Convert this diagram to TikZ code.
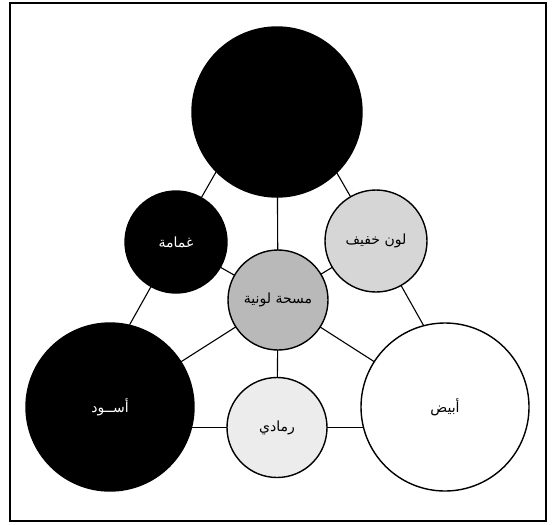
\documentclass[tikz,border=0pt]{standalone}
\usepackage{fontspec}
\newfontfamily\arabicfont[Script=Arabic]{DejaVu Sans}
\TeXXeTstate=1
\pgfdeclarelayer{bg}
\pgfsetlayers{bg,main}
\tikzset{
  circ/.style={circle, draw=black, line width=1.4pt, inner sep=0pt, minimum size=#1},
  conn/.style={line width=1.1pt, line cap=round},
  lbl/.style={font=\arabicfont\fontsize{14}{16}\selectfont},
  frame/.style={line width=1.3pt}
}
\begin{document}
\begin{tikzpicture}[x=1pt,y=-1pt]
\useasboundingbox (0,0) rectangle (553,524);
\draw[frame] (10,3) rectangle (546,521);
% hidden triangle vertices
\coordinate (vT) at (276,67);
\coordinate (vL) at (72,427.5);
\coordinate (vR) at (481,427.5);
% circles
\node[circ=170pt, fill=black] (top) at (277,112) {};
\node[circ=102pt, fill=black, text=white, lbl] (ghm) at (176,242) {\beginR غمامة\endR};
\node[circ=102pt, fill=gray!32, lbl] (light) at (376,241) {\beginR لون خفيف\endR};
\node[circ=100pt, fill=gray!55, lbl] (ctr) at (278,300) {\beginR مسحة لونية\endR};
\node[circ=168pt, fill=black, text=white, lbl] (aswad) at (110,407) {\beginR أســود\endR};
\node[circ=100pt, fill=gray!15, lbl] (ramadi) at (277,427.5) {\beginR رمادي\endR};
\node[circ=168pt, fill=white, lbl] (abyad) at (445,407) {\beginR أبيض\endR};
\begin{pgfonlayer}{bg}
  % triangle edges
  \draw[conn] (vT) -- (ghm.center) -- (vL);
  \draw[conn] (vT) -- (light.center) -- (vR);
  \draw[conn] (vL) -- (ramadi.center) -- (vR);
  % spokes from centre
  \draw[conn] (ctr.center) -- (top.center);
  \draw[conn] (ctr.center) -- (ghm.center);
  \draw[conn] (ctr.center) -- (light.center);
  \draw[conn] (ctr.center) -- (aswad.center);
  \draw[conn] (ctr.center) -- (abyad.center);
  \draw[conn] (ctr.center) -- (ramadi.center);
\end{pgfonlayer}
\end{tikzpicture}
\end{document}
